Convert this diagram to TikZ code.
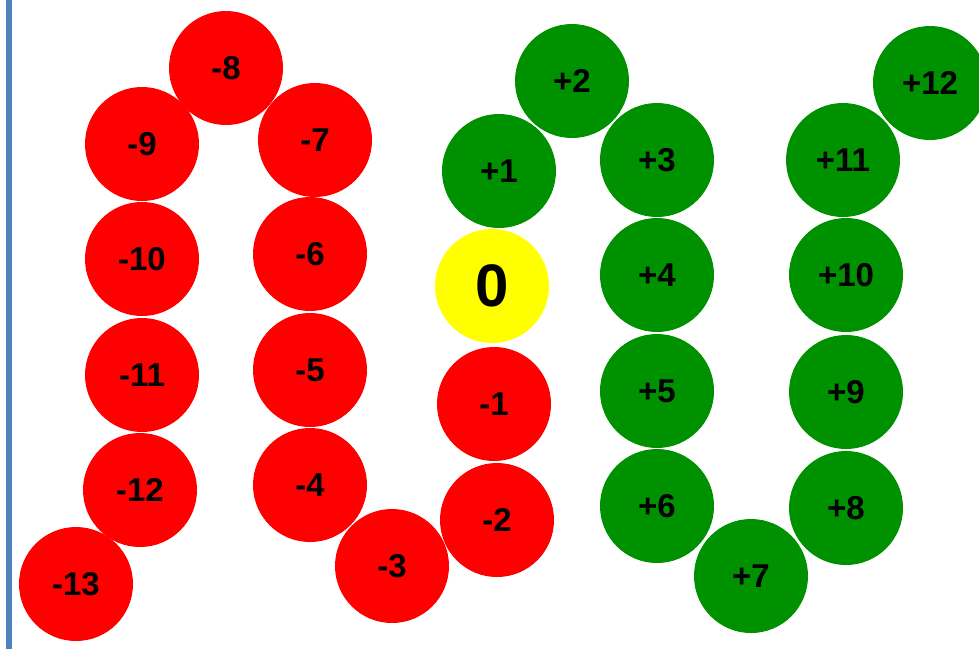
\documentclass[tikz,border=0pt]{standalone}
\usepackage{fontspec}
\setmainfont{Liberation Sans}
\usetikzlibrary{positioning}
\definecolor{ballRed}{HTML}{FF0000}
\definecolor{ballGreen}{HTML}{009100}
\definecolor{ballYellow}{HTML}{FFFF00}
\definecolor{edgeBlue}{HTML}{4F81BD}

\begin{document}
\begin{tikzpicture}[x=1pt, y=-1pt, font=\fontsize{33}{38}\selectfont\bfseries,
    ball/.style={circle, minimum size=114pt, inner sep=0pt},
    redball/.style={ball, fill=ballRed},
    greenball/.style={ball, fill=ballGreen},
    zeroball/.style={ball, fill=ballYellow, font=\fontsize{60}{66}\selectfont\bfseries}]
    \useasboundingbox (0,0) rectangle (979,649);
    \fill[white] (0,0) rectangle (979,649);
    \draw[edgeBlue, line width=6pt] (9,0) -- (9,649);
    % negative side
    \foreach \lab/\px/\py in {13/76/584, 12/140/490, 11/142/375, 10/142/259,
        9/142/144, 8/226/68, 7/315/140, 6/310/254, 5/310/370, 4/310/485,
        3/392/566, 2/497/520, 1/494/404}
      \node[redball] (m\lab) at (\px,\py) {-\lab};
    % zero
    \node[zeroball] (z) at (492,286) {0};
    % positive side
    \foreach \lab/\px/\py in {1/499/171, 2/572/81, 3/657/160, 4/657/275,
        5/657/391, 6/657/506, 7/751/576, 8/846/508, 9/846/392, 10/846/275,
        11/843/160, 12/930/83}
      \node[greenball] (p\lab) at (\px,\py) {+\lab};
\end{tikzpicture}
\end{document}
